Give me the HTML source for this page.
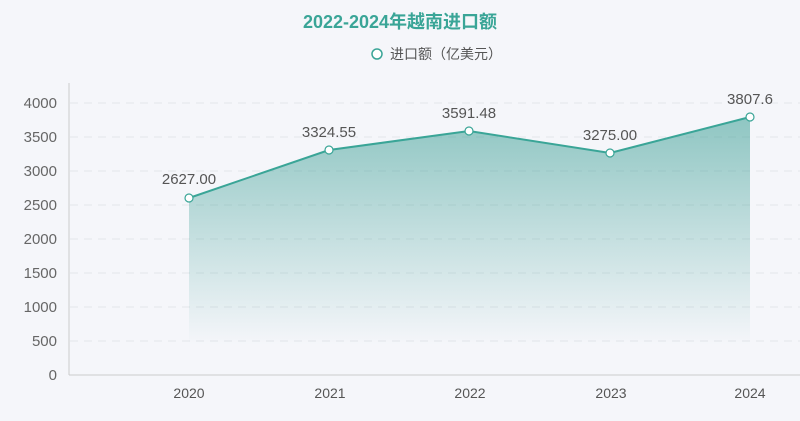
<!DOCTYPE html><html><head><meta charset="utf-8"><style>body{margin:0;background:#f5f6fa;}svg{display:block}</style></head><body>
<svg width="800" height="421" xmlns="http://www.w3.org/2000/svg" font-family="'Liberation Sans','Noto Sans CJK SC',sans-serif">
<defs><linearGradient id="g" x1="0" y1="116" x2="0" y2="345" gradientUnits="userSpaceOnUse"><stop offset="0" stop-color="#3a9e94" stop-opacity="0.55"/><stop offset="1" stop-color="#3a9e94" stop-opacity="0"/></linearGradient></defs>
<rect width="800" height="421" fill="#f5f6fa"/>
<text x="400" y="28" text-anchor="middle" font-size="18" font-weight="bold" fill="#3aa597">2022-2024年越南进口额</text>
<circle cx="377" cy="54" r="5" fill="#fff" stroke="#3aa597" stroke-width="1.5"/>
<text x="390" y="59" font-size="14" fill="#555">进口额（亿美元）</text>
<g stroke="#e3e5ea" stroke-dasharray="8,6" stroke-width="1">
<line x1="70" x2="800" y1="341" y2="341"/><line x1="70" x2="800" y1="307" y2="307"/><line x1="70" x2="800" y1="273" y2="273"/><line x1="70" x2="800" y1="239" y2="239"/><line x1="70" x2="800" y1="205" y2="205"/><line x1="70" x2="800" y1="171" y2="171"/><line x1="70" x2="800" y1="137" y2="137"/><line x1="70" x2="800" y1="103" y2="103"/></g>
<line x1="69" y1="83" x2="69" y2="375" stroke="#ccc"/>
<line x1="69" y1="375" x2="800" y1="375" y2="375" stroke="#ccc"/>
<g font-size="15" fill="#666" text-anchor="end">
<text x="57" y="380">0</text><text x="57" y="346">500</text><text x="57" y="312">1000</text><text x="57" y="278">1500</text><text x="57" y="244">2000</text><text x="57" y="210">2500</text><text x="57" y="176">3000</text><text x="57" y="142">3500</text><text x="57" y="108">4000</text></g>
<g font-size="14" fill="#555" text-anchor="middle">
<text x="189" y="398">2020</text><text x="330" y="398">2021</text><text x="470" y="398">2022</text><text x="611" y="398">2023</text><text x="750" y="398">2024</text></g>
<polygon points="189,198 329,150 469,131 610,153 750,117 750,375 189,375" fill="url(#g)"/>
<polyline points="189,198 329,150 469,131 610,153 750,117" fill="none" stroke="#3aa597" stroke-width="2"/>
<g fill="#fff" stroke="#3aa597" stroke-width="1.2"><circle cx="189" cy="198" r="4"/><circle cx="329" cy="150" r="4"/><circle cx="469" cy="131" r="4"/><circle cx="610" cy="153" r="4"/><circle cx="750" cy="117" r="4"/></g>
<g font-size="15" fill="#555" text-anchor="middle">
<text x="189" y="184">2627.00</text><text x="329" y="137">3324.55</text><text x="469" y="118">3591.48</text><text x="610" y="140">3275.00</text><text x="750" y="104">3807.6</text></g>
</svg></body></html>
